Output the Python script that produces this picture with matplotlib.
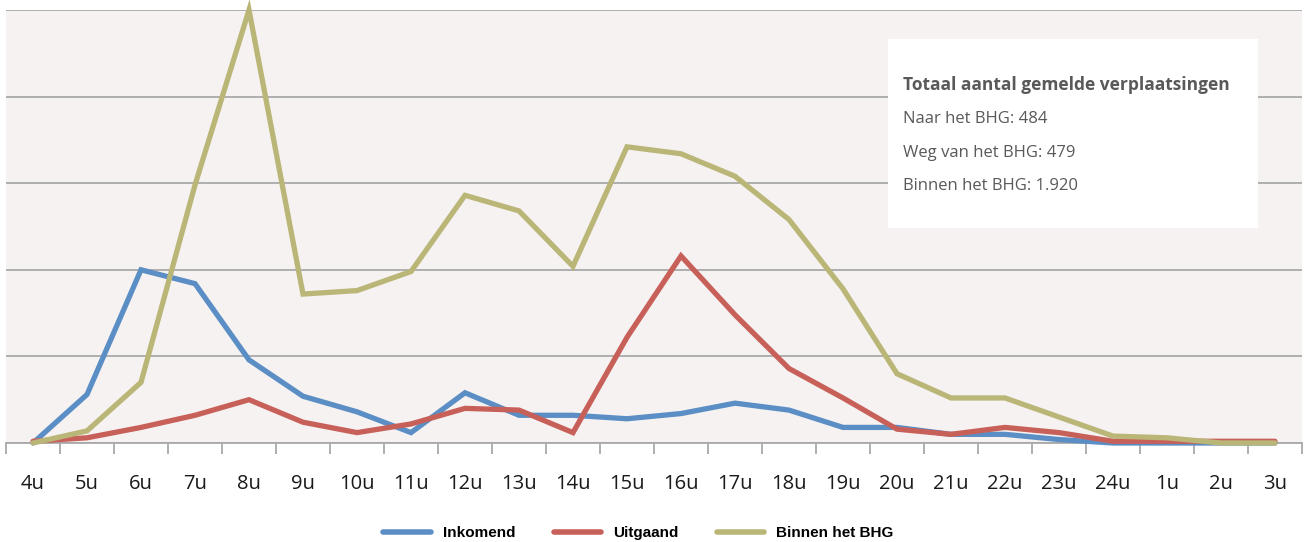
import numpy as np
import matplotlib.pyplot as plt
from matplotlib.patches import Rectangle
from matplotlib.lines import Line2D

#%% Data: reported trips per hour
uren = ['4u', '5u', '6u', '7u', '8u', '9u', '10u', '11u', '12u', '13u', '14u', '15u',
        '16u', '17u', '18u', '19u', '20u', '21u', '22u', '23u', '24u', '1u', '2u', '3u']

inkomend = [0, 28, 100, 92, 48, 27, 18, 6, 29, 16, 16, 14,
            17, 23, 19, 9, 9, 5, 5, 2, 0, 0, 0, 0]
uitgaand = [1, 3, 9, 16, 25, 12, 6, 11, 20, 19, 6, 61,
            108, 74, 43, 26, 8, 5, 9, 6, 1, 1, 1, 1]
binnen = [0, 7, 35, 149, 250, 86, 88, 99, 143, 134, 102, 171,
          167, 154, 129, 89, 40, 26, 26, 15, 4, 3, 0, 0]

totalen = ['Naar het BHG: 484', 'Weg van het BHG: 479', 'Binnen het BHG: 1.920']

#%% Style
c_in = '#5b8ec5'
c_uit = '#c8605a'
c_bin = '#bab677'
c_grid = '#a9a9a9'
c_txt = '#595959'
plt.rcParams['font.family'] = ['Open Sans', 'DejaVu Sans']

fig = plt.figure(figsize=(13.06, 5.42), dpi=100)
ax = fig.add_axes([6/1306, 99/542, 1296/1306, 433/542])
ax.set_facecolor('#f6f2f1')

x = np.arange(len(uren))
for serie, kleur in [(inkomend, c_in), (uitgaand, c_uit), (binnen, c_bin)]:
    ax.plot(x, serie, color=kleur, lw=3.8, solid_capstyle='round',
            solid_joinstyle='miter', clip_on=False, zorder=3)

ax.set_xlim(-0.5, len(uren) - 0.5)
ax.set_ylim(0, 250)
ax.set_yticks(np.arange(0, 251, 50))
ax.yaxis.grid(True, color=c_grid, lw=1.3)
ax.set_axisbelow(True)
ax.tick_params(axis='y', left=False, labelleft=False)

ax.set_xticks(x)
ax.set_xticklabels(uren, fontsize=14.5, color='#1a1a1a')
ax.set_xticks(np.arange(-0.5, len(uren)), minor=True)
ax.tick_params(axis='x', which='major', length=0, pad=22)
ax.tick_params(axis='x', which='minor', length=8, width=1.3, color=c_grid)

for s in ['left', 'right', 'top']:
    ax.spines[s].set_visible(False)
ax.spines['bottom'].set_color(c_grid)
ax.spines['bottom'].set_linewidth(1.3)

#%% Text box with totals
ax.add_patch(Rectangle((0.6806, 0.4965), 0.2855, 0.4365, transform=ax.transAxes,
                       facecolor='white', edgecolor='none', zorder=4))
ax.text(0.692, 0.827, 'Totaal aantal gemelde verplaatsingen', transform=ax.transAxes,
        fontsize=12.5, fontweight='bold', color=c_txt, va='center', zorder=5)
for i, t in enumerate(totalen):
    ax.text(0.692, 0.748 - i*0.0775, t, transform=ax.transAxes,
            fontsize=12, color=c_txt, va='center', zorder=5)

#%% Legend
handles = [Line2D([], [], color=c, lw=4, solid_capstyle='round') for c in (c_in, c_uit, c_bin)]
fig.legend(handles, ['Inkomend', 'Uitgaand', 'Binnen het BHG'], loc='center',
           bbox_to_anchor=(0.489, 9/542), ncol=3, frameon=False, handlelength=3.1,
           handletextpad=0.8, columnspacing=2.5,
           prop={'family': ['Liberation Sans', 'DejaVu Sans'], 'weight': 'bold', 'size': 11})

fig.savefig('out.png', dpi=100)
